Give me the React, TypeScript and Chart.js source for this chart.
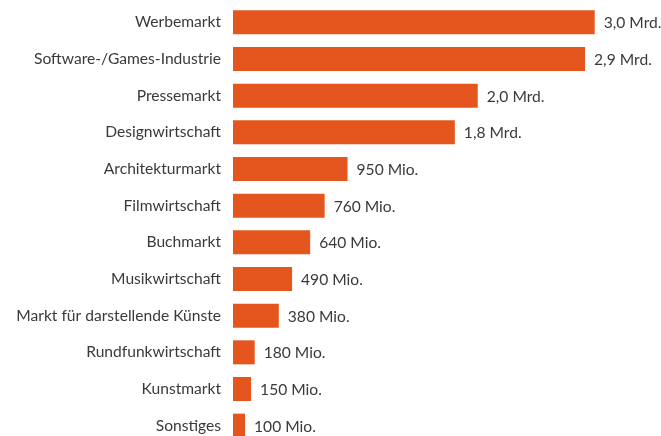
import React, { useEffect, useRef } from "react";
import { Chart, registerables } from "chart.js";

Chart.register(...registerables);

const categories = [
  "Werbemarkt",
  "Software-/Games-Industrie",
  "Pressemarkt",
  "Designwirtschaft",
  "Architekturmarkt",
  "Filmwirtschaft",
  "Buchmarkt",
  "Musikwirtschaft",
  "Markt für darstellende Künste",
  "Rundfunkwirtschaft",
  "Kunstmarkt",
  "Sonstiges",
];

// values in Mio. EUR
const values = [3000, 2920, 2030, 1840, 950, 760, 640, 490, 380, 180, 150, 100];

const valueLabels = [
  "3,0 Mrd.",
  "2,9 Mrd.",
  "2,0 Mrd.",
  "1,8 Mrd.",
  "950 Mio.",
  "760 Mio.",
  "640 Mio.",
  "490 Mio.",
  "380 Mio.",
  "180 Mio.",
  "150 Mio.",
  "100 Mio.",
];

const FONT = "Lato, 'Open Sans', sans-serif";
const FONT_SIZE = 15.6;
const TEXT_COLOR = "#3a3a3a";
const BAR_COLOR = "#E5561F";

const valueLabelPlugin = {
  id: "valueLabels",
  afterDatasetsDraw(chart: any) {
    const ctx = chart.ctx;
    const meta = chart.getDatasetMeta(0);
    ctx.save();
    ctx.font = `${FONT_SIZE}px ${FONT}`;
    ctx.fillStyle = TEXT_COLOR;
    ctx.textAlign = "left";
    ctx.textBaseline = "middle";
    meta.data.forEach((el: any, i: number) => {
      ctx.fillText(valueLabels[i], el.x + 9, el.y + 1);
    });
    ctx.restore();
  },
};

export default function App() {
  const ref = useRef<HTMLCanvasElement>(null);
  useEffect(() => {
    if (!ref.current) return;
    const chart = new Chart(ref.current, {
      type: "bar",
      data: {
        labels: categories,
        datasets: [
          {
            data: values,
            backgroundColor: BAR_COLOR,
            borderWidth: 0,
            barPercentage: 0.655,
            categoryPercentage: 1,
          },
        ],
      },
      options: {
        indexAxis: "y",
        responsive: false,
        animation: false,
        layout: { padding: { top: 4, bottom: 4, left: 0, right: 6 } },
        plugins: {
          legend: { display: false },
          tooltip: { enabled: false },
        },
        scales: {
          x: {
            display: false,
            min: 0,
            max: 3500,
          },
          y: {
            grid: { display: false, drawTicks: false },
            border: { display: false },
            ticks: {
              padding: 12,
              color: TEXT_COLOR,
              font: { family: FONT, size: FONT_SIZE },
            },
            afterFit(scale: any) {
              scale.width = 233;
              scale.paddingTop = 0;
              scale.paddingBottom = 0;
            },
          },
        },
      },
      plugins: [valueLabelPlugin],
    });
    return () => chart.destroy();
  }, []);
  return (
    <div
      style={{
        position: "fixed",
        left: 0,
        top: 0,
        width: 661,
        height: 436,
        overflow: "hidden",
        background: "#fff",
      }}
    >
      <canvas ref={ref} width={661} height={448} style={{ display: "block" }} />
    </div>
  );
}
